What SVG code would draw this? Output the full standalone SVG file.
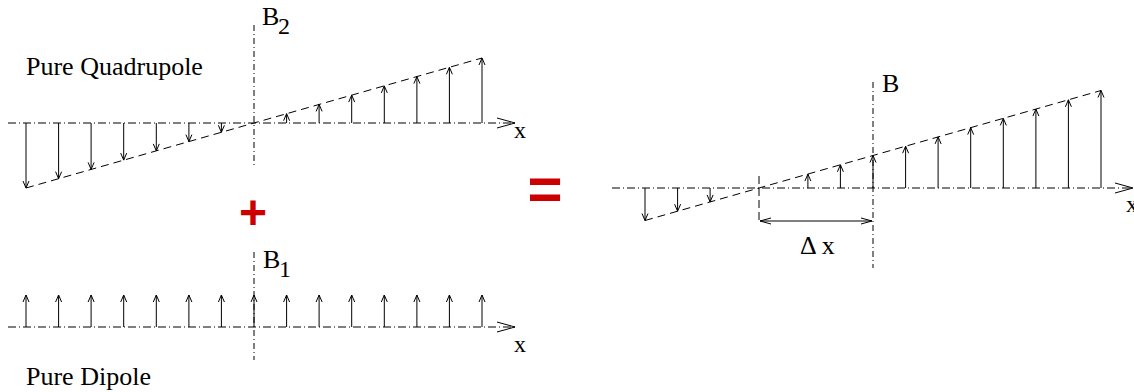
<svg xmlns="http://www.w3.org/2000/svg" width="1134" height="392" viewBox="0 0 1134 392">
<defs>
<marker id="ah" markerWidth="10" markerHeight="8" refX="7" refY="3" orient="auto" markerUnits="userSpaceOnUse" overflow="visible"><path d="M0,0 L7,3 L0,6" fill="none" stroke="#000" stroke-width="1"/></marker>
<marker id="ax" markerWidth="20" markerHeight="12" refX="18" refY="5" orient="auto" markerUnits="userSpaceOnUse" overflow="visible"><path d="M0,0 L18,5 L0,10" fill="none" stroke="#000" stroke-width="1"/></marker>
<marker id="dm" markerWidth="12" markerHeight="8" refX="11" refY="3" orient="auto-start-reverse" markerUnits="userSpaceOnUse" overflow="visible"><path d="M0,0 L11,3 L0,6" fill="none" stroke="#000" stroke-width="1"/></marker>
</defs>
<style>
.axis{stroke:#000;stroke-width:1;fill:none;stroke-dasharray:8 3 1 3;marker-end:url(#ax)}
.vert{stroke:#000;stroke-width:1;fill:none;stroke-dasharray:6 3 1 3}
.env{stroke:#000;stroke-width:1;fill:none;stroke-dasharray:8 5}
.arr{stroke:#000;stroke-width:1;fill:none;marker-end:url(#ah)}
.t{font-family:"Liberation Serif","Times New Roman",serif;fill:#000}
.op{font-family:"Liberation Sans",Arial,sans-serif;font-weight:bold;fill:#cc0000;text-anchor:middle}
</style>

<g id="quadrupole">
<line class="axis" x1="8" y1="123" x2="515" y2="123"/>
<line class="vert" x1="254" y1="25" x2="254" y2="168"/>
<line class="env" x1="26" y1="188" x2="482" y2="58"/>
<line class="arr" x1="26" y1="123" x2="26" y2="188"/>
<line class="arr" x1="58.6" y1="123" x2="58.6" y2="178.7"/>
<line class="arr" x1="91.1" y1="123" x2="91.1" y2="169.4"/>
<line class="arr" x1="123.7" y1="123" x2="123.7" y2="160.1"/>
<line class="arr" x1="156.3" y1="123" x2="156.3" y2="150.9"/>
<line class="arr" x1="188.9" y1="123" x2="188.9" y2="141.6"/>
<line class="arr" x1="221.4" y1="123" x2="221.4" y2="132.3"/>
<line class="arr" x1="286.6" y1="123" x2="286.6" y2="113.7"/>
<line class="arr" x1="319.1" y1="123" x2="319.1" y2="104.4"/>
<line class="arr" x1="351.7" y1="123" x2="351.7" y2="95.1"/>
<line class="arr" x1="384.3" y1="123" x2="384.3" y2="85.9"/>
<line class="arr" x1="416.9" y1="123" x2="416.9" y2="76.6"/>
<line class="arr" x1="449.4" y1="123" x2="449.4" y2="67.3"/>
<line class="arr" x1="482" y1="123" x2="482" y2="58"/>
<text class="t" x="26" y="75" font-size="26">Pure Quadrupole</text>
<text class="t" x="262" y="25" font-size="26">B</text>
<text class="t" x="278" y="34" font-size="24">2</text>
<text class="t" x="514" y="138" font-size="24">x</text>
</g>

<g id="plus">
<text class="op" x="253" y="229" font-size="48">+</text>
</g>

<g id="dipole">
<line class="axis" x1="8" y1="327" x2="515" y2="327"/>
<line class="vert" x1="254" y1="252" x2="254" y2="360"/>
<line class="arr" x1="26" y1="327" x2="26" y2="295"/>
<line class="arr" x1="58.6" y1="327" x2="58.6" y2="295"/>
<line class="arr" x1="91.1" y1="327" x2="91.1" y2="295"/>
<line class="arr" x1="123.7" y1="327" x2="123.7" y2="295"/>
<line class="arr" x1="156.3" y1="327" x2="156.3" y2="295"/>
<line class="arr" x1="188.9" y1="327" x2="188.9" y2="295"/>
<line class="arr" x1="221.4" y1="327" x2="221.4" y2="295"/>
<line class="arr" x1="254" y1="327" x2="254" y2="295"/>
<line class="arr" x1="286.6" y1="327" x2="286.6" y2="295"/>
<line class="arr" x1="319.1" y1="327" x2="319.1" y2="295"/>
<line class="arr" x1="351.7" y1="327" x2="351.7" y2="295"/>
<line class="arr" x1="384.3" y1="327" x2="384.3" y2="295"/>
<line class="arr" x1="416.9" y1="327" x2="416.9" y2="295"/>
<line class="arr" x1="449.4" y1="327" x2="449.4" y2="295"/>
<line class="arr" x1="482" y1="327" x2="482" y2="295"/>
<text class="t" x="263" y="268" font-size="26">B</text>
<text class="t" x="279" y="277" font-size="24">1</text>
<text class="t" x="514" y="352" font-size="24">x</text>
<text class="t" x="26" y="385" font-size="26">Pure Dipole</text>
</g>

<g id="equals">
<text class="op" x="545" y="209" font-size="60">=</text>
</g>

<g id="result">
<line class="axis" x1="612" y1="188" x2="1133" y2="188"/>
<line class="vert" x1="873" y1="82" x2="873" y2="268"/>
<line class="env" x1="645" y1="220.5" x2="1101" y2="90.5"/>
<line class="arr" x1="645" y1="188" x2="645" y2="220.5"/>
<line class="arr" x1="677.6" y1="188" x2="677.6" y2="211.2"/>
<line class="arr" x1="710.1" y1="188" x2="710.1" y2="201.9"/>
<line class="arr" x1="807.9" y1="188" x2="807.9" y2="174.1"/>
<line class="arr" x1="840.4" y1="188" x2="840.4" y2="164.8"/>
<line class="arr" x1="873" y1="188" x2="873" y2="155.5"/>
<line class="arr" x1="905.6" y1="188" x2="905.6" y2="146.2"/>
<line class="arr" x1="938.1" y1="188" x2="938.1" y2="136.9"/>
<line class="arr" x1="970.7" y1="188" x2="970.7" y2="127.6"/>
<line class="arr" x1="1003.3" y1="188" x2="1003.3" y2="118.4"/>
<line class="arr" x1="1035.9" y1="188" x2="1035.9" y2="109.1"/>
<line class="arr" x1="1068.4" y1="188" x2="1068.4" y2="99.8"/>
<line class="arr" x1="1101" y1="188" x2="1101" y2="90.5"/>
<line stroke="#000" stroke-width="1" stroke-dasharray="8 4" x1="759" y1="176" x2="759" y2="222"/>
<line stroke="#000" stroke-width="1" marker-start="url(#dm)" marker-end="url(#dm)" x1="760" y1="221" x2="872" y2="221"/>
<text class="t" x="882" y="92" font-size="26">B</text>
<text class="t" x="800" y="254" font-size="26">Δ x</text>
<text class="t" x="1126" y="212" font-size="24">x</text>
</g>
</svg>
